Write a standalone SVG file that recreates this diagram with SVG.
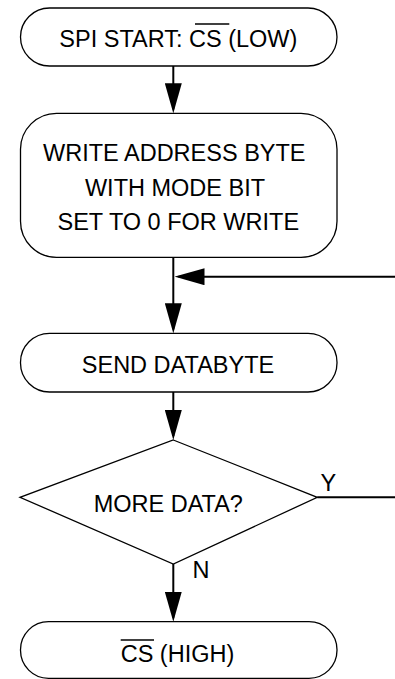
<svg xmlns="http://www.w3.org/2000/svg" width="395" height="679" viewBox="0 0 395 679">
<style>
.box{fill:#fff;stroke:#000;stroke-width:1.3}
.txt{font-family:"Liberation Sans",Arial,sans-serif;font-size:23.5px;fill:#000}
.conn{stroke:#000;stroke-width:2;fill:none}
.ov{stroke:#000;stroke-width:1.5}
</style>
<defs>
<marker id="arr" viewBox="0 0 30 17" refX="26" refY="8.5" markerWidth="30" markerHeight="17" markerUnits="userSpaceOnUse" orient="auto">
<path d="M0,0 L30,8.5 L0,17 z" fill="#000"/>
</marker>
</defs>
<rect width="395" height="679" fill="#fff"/>
<g id="connectors">
<line class="conn" x1="173.3" y1="66" x2="173.3" y2="109.3" marker-end="url(#arr)"/>
<line class="conn" x1="173.3" y1="257.3" x2="173.3" y2="329.3" marker-end="url(#arr)"/>
<line class="conn" x1="395" y1="276.7" x2="178.5" y2="276.7" marker-end="url(#arr)"/>
<line class="conn" x1="173.3" y1="392" x2="173.3" y2="436" marker-end="url(#arr)"/>
<line class="conn" x1="317.3" y1="497.3" x2="395" y2="497.3"/>
<line class="conn" x1="173.3" y1="564" x2="173.3" y2="617.7" marker-end="url(#arr)"/>
<text class="txt" x="320.5" y="490.7">Y</text>
<text class="txt" x="192.5" y="578.3">N</text>
</g>
<g id="start">
<rect class="box" x="20.5" y="8" width="316.5" height="58" rx="29" ry="29"/>
<text class="txt" x="59.3" y="46.7">SPI START: CS (LOW)</text>
<line class="ov" x1="195" y1="24" x2="229.3" y2="24"/>
</g>
<g id="write-address">
<rect class="box" x="20.5" y="113.3" width="316.5" height="144" rx="36" ry="36"/>
<text class="txt" x="174.3" y="160.7" text-anchor="middle">WRITE ADDRESS BYTE</text>
<text class="txt" x="175" y="196" text-anchor="middle">WITH MODE BIT</text>
<text class="txt" x="178.3" y="230" text-anchor="middle">SET TO 0 FOR WRITE</text>
</g>
<g id="send-databyte">
<rect class="box" x="20.5" y="333.3" width="316.5" height="58.7" rx="29" ry="29"/>
<text class="txt" x="178" y="372.7" text-anchor="middle">SEND DATABYTE</text>
</g>
<g id="more-data">
<polygon class="box" points="173.3,440 317.3,497.3 173.3,564 20,497.3"/>
<text class="txt" x="168.3" y="511.7" text-anchor="middle">MORE DATA?</text>
</g>
<g id="cs-high">
<rect class="box" x="20.5" y="621.7" width="316.5" height="56.6" rx="28" ry="28"/>
<text class="txt" x="120.7" y="661.7">CS (HIGH)</text>
<line class="ov" x1="120.7" y1="640" x2="154" y2="640"/>
</g>
</svg>
